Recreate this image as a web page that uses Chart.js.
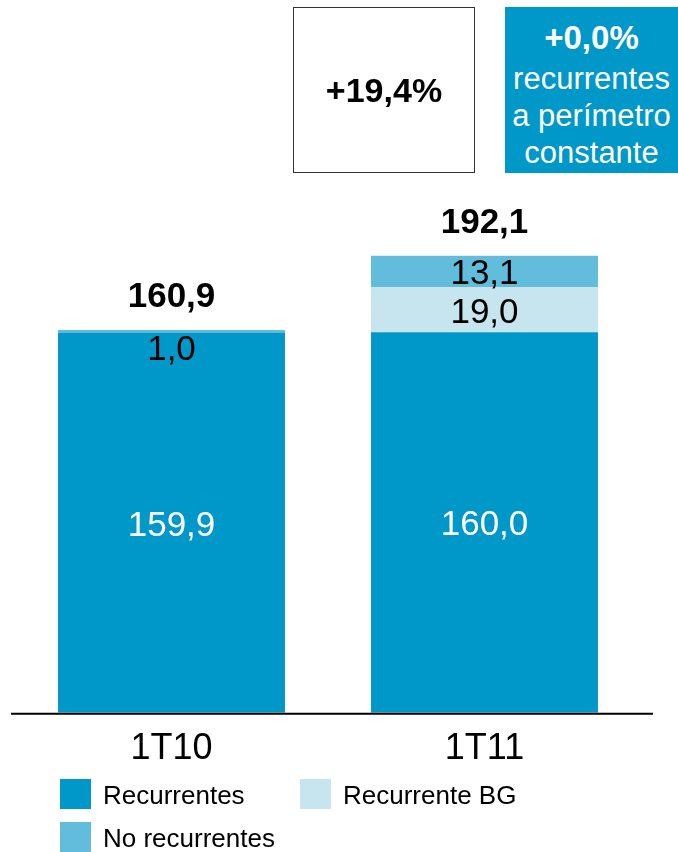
<!DOCTYPE html>
<html>
<head>
<meta charset="utf-8">
<script src="https://cdn.jsdelivr.net/npm/chart.js@4"></script>
<style>
  html, body { margin: 0; padding: 0; background: #fff; }
  #wrap { position: relative; width: 678px; height: 852px; font-family: "Liberation Sans", Arial, sans-serif; }
  #chart { position: absolute; left: 0; top: 0; }
  .box { position: absolute; top: 7px; height: 166px; box-sizing: border-box; text-align: center; }
  #boxTotal { left: 293px; width: 182px; border: 1px solid #333; display: flex; align-items: center; justify-content: center; font-weight: bold; font-size: 34px; color: #000; }
  #boxRec { left: 505px; width: 173px; background: #0097c9; color: #fff; font-size: 31px; line-height: 37px; padding-top: 12px; }
  #boxRec .big { font-weight: bold; font-size: 33px; margin-bottom: 4px; }
  .leg { position: absolute; font-size: 26px; color: #000; line-height: 30px; }
  .leg span { position: absolute; left: 0; top: 0; width: 31px; height: 30px; }
  .leg div { position: absolute; left: 43px; top: 1px; white-space: nowrap; }
</style>
</head>
<body>
<div id="wrap">
  <canvas id="chart" width="678" height="852"></canvas>
  <div class="box" id="boxTotal">+19,4%</div>
  <div class="box" id="boxRec"><div class="big">+0,0%</div>recurrentes<br>a perímetro<br>constante</div>
  <div id="legend"></div>
</div>
<script>
// Quarterly values (stacked)
const categories = ['1T10', '1T11'];
const recurrentes = [159.9, 160.0];
const recurrenteBG = [null, 19.0];
const noRecurrentes = [1.0, 13.1];

const colors = ['#0097c9', '#c6e5ef', '#62bcdc'];
const seriesNames = ['Recurrentes', 'Recurrente BG', 'No recurrentes'];
const labelColors = ['#ffffff', '#000000', '#000000'];

const fontFamily = '"Liberation Sans", Arial, sans-serif';

function fmt(v) {
    return v.toFixed(1).replace('.', ',');
}

// Segment values and stack totals
const valueLabels = {
    id: 'valueLabels',
    afterDatasetsDraw(chart) {
        const ctx = chart.ctx;
        ctx.save();
        ctx.textAlign = 'center';
        ctx.textBaseline = 'alphabetic';
        chart.data.datasets.forEach((ds, i) => {
            const meta = chart.getDatasetMeta(i);
            meta.data.forEach((bar, j) => {
                const v = ds.data[j];
                if (v == null) return;
                const h = bar.base - bar.y;
                const y = h < 20 ? bar.y + 30 : (bar.y + bar.base) / 2 + 13;
                ctx.font = '35px ' + fontFamily;
                ctx.fillStyle = labelColors[i];
                ctx.fillText(fmt(v), bar.x, y);
            });
        });
        // totals above each stack
        const last = chart.getDatasetMeta(chart.data.datasets.length - 1);
        categories.forEach((c, j) => {
            const total = recurrentes[j] + (recurrenteBG[j] || 0) + noRecurrentes[j];
            const bar = last.data[j];
            ctx.font = 'bold 35px ' + fontFamily;
            ctx.fillStyle = '#000';
            ctx.fillText(fmt(total), bar.x, bar.y - 23);
        });
        ctx.restore();
    },
    afterDraw(chart) {
        // baseline under the bars
        const ctx = chart.ctx;
        const y = chart.scales.y.getPixelForValue(0) + 1;
        ctx.save();
        ctx.strokeStyle = '#000';
        ctx.lineWidth = 2;
        ctx.beginPath();
        ctx.moveTo(11, y);
        ctx.lineTo(653, y);
        ctx.stroke();
        ctx.restore();
    }
};

const ctx = document.getElementById('chart').getContext('2d');
const chart = new Chart(ctx, {
    type: 'bar',
    data: {
        labels: categories,
        datasets: [
            { label: seriesNames[0], data: recurrentes, backgroundColor: colors[0] },
            { label: seriesNames[1], data: recurrenteBG, backgroundColor: colors[1] },
            { label: seriesNames[2], data: noRecurrentes, backgroundColor: colors[2] },
        ],
    },
    options: {
        responsive: false,
        animation: false,
        layout: { padding: { left: 15, right: 37, top: 237, bottom: 66 } },
        datasets: { bar: { barPercentage: 0.725, categoryPercentage: 1, borderWidth: 0 } },
        scales: {
            x: {
                stacked: true,
                grid: { display: false, drawTicks: false },
                border: { display: false },
                ticks: { color: '#000', font: { size: 36, family: fontFamily }, padding: 15 },
            },
            y: {
                stacked: true,
                display: false,
                min: 0,
                max: 200,
            },
        },
        plugins: {
            legend: { display: false },
            tooltip: { enabled: false },
        },
    },
    plugins: [valueLabels],
});

// Legend: two columns
const legendPos = [[60, 779], [300, 779], [60, 822]];
const legendEl = document.getElementById('legend');
seriesNames.forEach((name, i) => {
    const item = document.createElement('div');
    item.className = 'leg';
    item.style.left = legendPos[i][0] + 'px';
    item.style.top = legendPos[i][1] + 'px';
    item.innerHTML = '<span style="background:' + colors[i] + '"></span><div>' + name + '</div>';
    legendEl.appendChild(item);
});
</script>
</body>
</html>
